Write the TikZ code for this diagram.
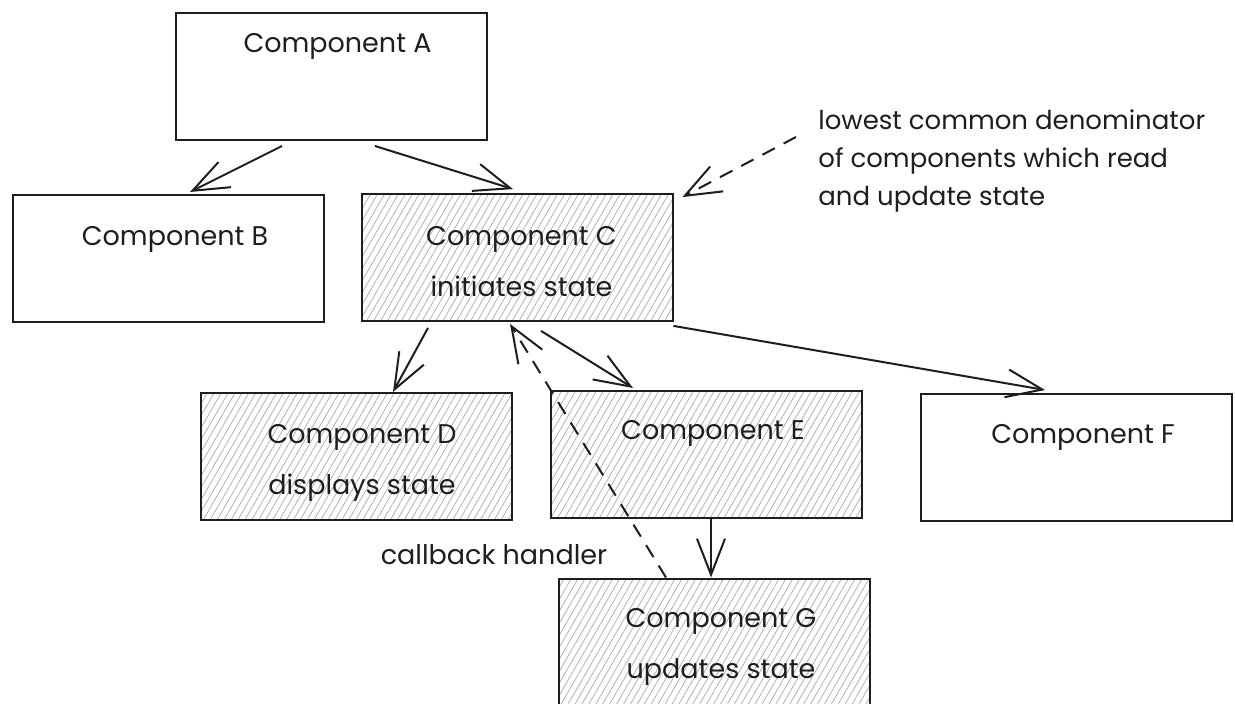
\documentclass[tikz,border=0pt]{standalone}
\usepackage{fontspec}
\setmainfont{Poppins}
\usetikzlibrary{arrows.meta,patterns.meta}
\definecolor{ink}{HTML}{1E1E1E}
\tikzset{
    comp-box/.style = {draw=ink, line width=1pt, rectangle, minimum width=155.5pt, minimum height=63.5pt, inner sep=0pt},
    comp-box-shaded/.style = {comp-box, pattern={Lines[angle=60, distance=3pt, line width=0.4pt]}, pattern color=gray!60},
    comp-label/.style = {text=ink, align=center, font=\fontsize{13.5}{25.5}\selectfont},
    note-label/.style = {text=ink, align=left, inner sep=0pt, font=\fontsize{13}{19}\selectfont},
    flow-arrow/.style = {draw=ink, line width=1pt, -{Straight Barb[length=18pt, width=14pt]}},
    dash-arrow/.style = {flow-arrow, dash pattern=on 7pt off 5pt},
}

\begin{document}
\begin{tikzpicture}[x=0.5pt, y=-0.5pt]
\fill[white] (0,0) rectangle (1235,704);
\useasboundingbox (0,0) rectangle (1235,704);

\node[comp-box] (A) at (331.5,76.5) {};
\node[comp-box] (B) at (168.5,258.5) {};
\node[comp-box-shaded] (C) at (517.5,258) {};
\node[comp-box-shaded] (D) at (356.5,456.5) {};
\node[comp-box-shaded] (E) at (706,454.5) {};
\node[comp-box] (F) at (1076,457.5) {};
\node[comp-box-shaded] (G) at (714.5,642) {};

\node[comp-label] (A-label) at ([shift={(6,34)}]A.north) {Component A};
\node[comp-label] (B-label) at ([shift={(6.5,45)}]B.north) {Component B};
\node[comp-label] (C-label) at ([shift={(4,67.5)}]C.north) {Component C\\initiates state};
\node[comp-label] (D-label) at ([shift={(5.5,71)}]D.north) {Component D\\displays state};
\node[comp-label] (E-label) at ([shift={(7,43)}]E.north) {Component E};
\node[comp-label] (F-label) at ([shift={(7,44)}]F.north) {Component F};
\node[comp-label] (G-label) at ([shift={(6.5,69.5)}]G.north) {Component G\\updates state};

\node[note-label, anchor=west] (note) at (818,160.5) {lowest common denominator\\of components which read\\and update state};
\node[comp-label] (callback) at (494,555) {callback handler};

\draw[flow-arrow] ([shift={(-49.5,5)}]A.south) -- ([shift={(21.5,-2)}]B.north);
\draw[flow-arrow] ([shift={(43.5,5)}]A.south) -- ([shift={(-4.5,-5)}]C.north);
\draw[flow-arrow] ([shift={(-89.5,6)}]C.south) -- ([shift={(36.5,0)}]D.north);
\draw[flow-arrow] ([shift={(23.5,9)}]C.south) -- ([shift={(-73,-2)}]E.north);
\draw[flow-arrow] ([shift={(0,4)}]C.south east) -- ([shift={(-31,-3)}]F.north);
\draw[flow-arrow] ([shift={(5,0)}]E.south) -- ([shift={(-3.5,0)}]G.north);
\draw[dash-arrow] ([shift={(-48.5,0)}]G.north) -- ([shift={(-7.5,2)}]C.south);
\draw[dash-arrow] ([shift={(-22,-23.5)}]note.west) -- ([shift={(9,3)}]C.north east);
\end{tikzpicture}
\end{document}
